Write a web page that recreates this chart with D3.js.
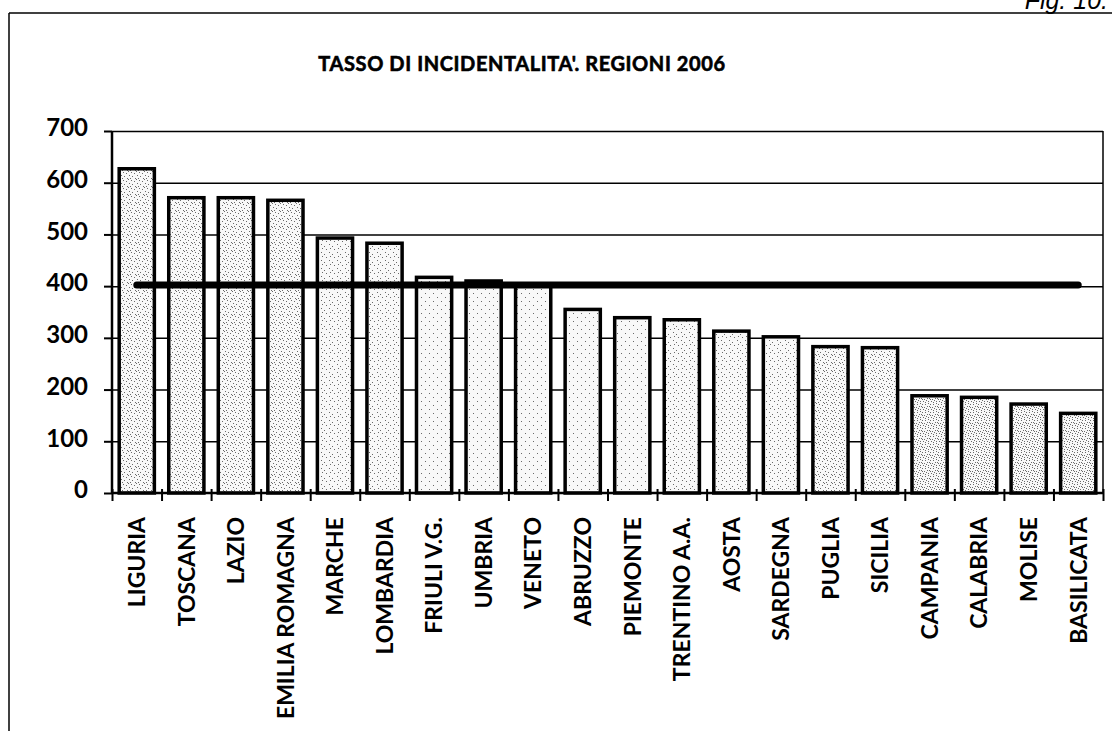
<!DOCTYPE html>
<html>
<head>
<meta charset="utf-8">
<script src="https://cdn.jsdelivr.net/npm/d3@7"></script>
<style>
  body { margin: 0; background: #fff; }
  svg { display: block; }
  .lbl { font-family: Lato, "DejaVu Sans", sans-serif; font-weight: 700; fill: #000; }
</style>
</head>
<body>
<div id="chart"></div>
<script>
// data
const regions = ["LIGURIA", "TOSCANA", "LAZIO", "EMILIA ROMAGNA", "MARCHE", "LOMBARDIA",
  "FRIULI V.G.", "UMBRIA", "VENETO", "ABRUZZO", "PIEMONTE", "TRENTINO A.A.", "AOSTA",
  "SARDEGNA", "PUGLIA", "SICILIA", "CAMPANIA", "CALABRIA", "MOLISE", "BASILICATA"];
const rates = [627, 571, 571, 566, 493, 483, 417, 410, 400, 355, 339, 335, 313, 302, 283, 281, 188, 185, 172, 154];
const nationalAvg = 402;
const yTicks = [0, 100, 200, 300, 400, 500, 600, 700];
const title = "TASSO DI INCIDENTALITA'. REGIONI 2006";

// stipple shade for each bar (0 = almost white, 3 = darkest)
const shade = [2, 2, 2, 2, 1, 1, 0, 0, 0, 0, 0, 1, 1, 1, 2, 2, 3, 3, 3, 3];

const W = 1112, H = 731;
const svg = d3.select("#chart").append("svg")
    .attr("width", W)
    .attr("height", H);

const margin = { top: 131, right: 9, bottom: 238, left: 112 },
    width = W - margin.left - margin.right,
    height = H - margin.top - margin.bottom;

// stipple patterns (fixed dot layout)
const defs = svg.append("defs");
const dotSets = [
  [[1, 2], [5, 6]],
  [[1, 1], [4, 3], [6, 6], [2, 5]],
  [[0, 0], [3, 1], [6, 2], [1, 4], [4, 5], [7, 7], [2, 7]],
  [[0, 0], [2, 1], [5, 1], [7, 3], [1, 3], [4, 4], [6, 5], [0, 6], [3, 6], [5, 7], [2, 4]]
];
dotSets.forEach((dots, i) => {
  const p = defs.append("pattern")
      .attr("id", "stip" + i)
      .attr("width", 8).attr("height", 8)
      .attr("patternUnits", "userSpaceOnUse");
  p.append("rect").attr("width", 8).attr("height", 8).attr("fill", "#f8f8f8");
  p.selectAll("rect.d").data(dots).join("rect")
      .attr("class", "d")
      .attr("x", d => d[0]).attr("y", d => d[1])
      .attr("width", 1).attr("height", 1)
      .attr("fill", "#6a6a6a");
});

// outer frame
svg.append("line").attr("x1", 9).attr("x2", W).attr("y1", 13).attr("y2", 13)
    .attr("stroke", "#000").attr("stroke-width", 1.5);
svg.append("line").attr("x1", 9).attr("x2", 9).attr("y1", 13).attr("y2", H)
    .attr("stroke", "#000").attr("stroke-width", 1.5);

svg.append("text")
    .attr("x", 1108).attr("y", 9)
    .attr("text-anchor", "end")
    .style("font-family", "'Liberation Sans', Arial, sans-serif")
    .style("font-style", "italic")
    .style("font-size", "25px")
    .text("Fig. 10.");

svg.append("text")
    .attr("class", "lbl")
    .attr("x", 522).attr("y", 71)
    .attr("text-anchor", "middle")
    .style("font-size", "20px")
    .style("letter-spacing", "0.6px")
    .style("stroke", "#000")
    .style("stroke-width", 0.6)
    .text(title);

const g = svg.append("g").attr("transform", `translate(${margin.left},${margin.top})`);

const x = d3.scaleBand()
    .domain(regions)
    .range([0, width])
    .paddingInner(0.29)
    .paddingOuter(0.145);

const y = d3.scaleLinear()
    .domain([0, 700])
    .range([height, 0]);

// grid lines
g.append("g")
    .call(d3.axisLeft(y).tickValues(yTicks.slice(1)).tickSize(-width).tickFormat(""))
    .call(a => a.select(".domain").remove())
    .selectAll("line").attr("stroke", "#000").attr("stroke-width", 1.5);

// right border of plot area
g.append("line").attr("x1", width).attr("x2", width).attr("y1", 0).attr("y2", height)
    .attr("stroke", "#000").attr("stroke-width", 1.5);

// bars
g.selectAll(".bar")
    .data(regions)
    .join("rect")
    .attr("class", "bar")
    .attr("x", d => x(d))
    .attr("y", (d, i) => y(rates[i]))
    .attr("width", x.bandwidth())
    .attr("height", (d, i) => height - y(rates[i]))
    .attr("fill", (d, i) => `url(#stip${shade[i]})`)
    .attr("stroke", "#000")
    .attr("stroke-width", 3.5);

// national average line
const mid = d => x(d) + x.bandwidth() / 2;
g.append("line")
    .attr("x1", mid(regions[0]))
    .attr("x2", mid(regions[regions.length - 1]))
    .attr("y1", y(nationalAvg))
    .attr("y2", y(nationalAvg))
    .attr("stroke", "#000")
    .attr("stroke-width", 7)
    .attr("stroke-linecap", "round");

// y axis
const yAxis = g.append("g")
    .call(d3.axisLeft(y).tickValues(yTicks).tickSize(8).tickPadding(16));
yAxis.select(".domain").attr("stroke", "#000").attr("stroke-width", 2.5).attr("d", `M0,0V${height}`);
yAxis.selectAll("line").attr("stroke", "#000").attr("stroke-width", 2);
yAxis.selectAll("text")
    .attr("class", "lbl")
    .style("font-size", "24px")
    .attr("dy", "0.2em");

// x axis with ticks at category boundaries
const xb = d3.scaleLinear().domain([0, regions.length]).range([0, width]);
const xAxis = g.append("g")
    .attr("transform", `translate(0,${height})`)
    .call(d3.axisBottom(xb).tickValues(d3.range(regions.length + 1)).tickSize(8).tickFormat(""));
xAxis.select(".domain").attr("stroke", "#000").attr("stroke-width", 2.5).attr("d", `M0,0H${width}`);
xAxis.selectAll(".tick line").attr("y1", -4).attr("stroke", "#000").attr("stroke-width", 2);

// category labels
g.append("g")
    .attr("transform", `translate(0,${height})`)
    .call(d3.axisBottom(x).tickSize(0).tickPadding(0))
    .call(a => a.select(".domain").remove())
    .selectAll("text")
    .attr("class", "lbl")
    .style("font-size", "23px")
    .attr("transform", "rotate(-90)")
    .attr("text-anchor", "end")
    .attr("x", -24)
    .attr("y", 0)
    .attr("dy", "0.36em");
</script>
</body>
</html>
